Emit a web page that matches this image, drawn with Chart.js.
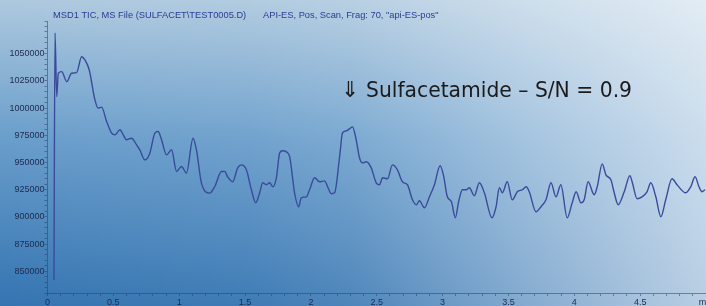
<!DOCTYPE html>
<html>
<head>
<meta charset="utf-8">
<script src="https://cdn.jsdelivr.net/npm/chart.js@4/dist/chart.umd.min.js"></script>
<style>
  html, body { margin: 0; padding: 0; overflow: hidden; width: 706px; height: 306px; }
  canvas { display: block; }
</style>
</head>
<body>
<canvas id="chart" width="728" height="306"></canvas>
<script>
// TIC trace (time in min, abundance)
const times = [0.049, 0.057, 0.070, 0.082, 0.108, 0.146, 0.183, 0.221, 0.259, 0.284,
  0.317, 0.360, 0.385, 0.411, 0.449, 0.487, 0.512, 0.550, 0.575, 0.600,
  0.638, 0.676, 0.701, 0.739, 0.777, 0.815, 0.840, 0.866, 0.904, 0.942,
  0.980, 1.017, 1.055, 1.105, 1.131, 1.169, 1.232, 1.270, 1.321, 1.346,
  1.368, 1.406, 1.444, 1.472, 1.510, 1.548, 1.581, 1.611, 1.634, 1.662,
  1.687, 1.710, 1.738, 1.763, 1.785, 1.814, 1.839, 1.876, 1.907, 1.927,
  1.965, 1.990, 2.028, 2.066, 2.104, 2.127, 2.155, 2.180, 2.218, 2.240,
  2.268, 2.293, 2.316, 2.344, 2.369, 2.392, 2.420, 2.458, 2.496, 2.521,
  2.544, 2.582, 2.619, 2.657, 2.695, 2.733, 2.771, 2.801, 2.824, 2.862,
  2.900, 2.938, 2.981, 3.006, 3.036, 3.067, 3.097, 3.120, 3.150, 3.180,
  3.203, 3.241, 3.279, 3.317, 3.375, 3.406, 3.431, 3.454, 3.491, 3.529,
  3.567, 3.605, 3.635, 3.658, 3.709, 3.747, 3.785, 3.823, 3.861, 3.898,
  3.946, 3.984, 4.014, 4.050, 4.075, 4.105, 4.151, 4.174, 4.212, 4.240,
  4.278, 4.303, 4.333, 4.379, 4.422, 4.439, 4.477, 4.514, 4.552, 4.581,
  4.619, 4.657, 4.694, 4.742, 4.780, 4.846, 4.884, 4.917, 4.947, 4.970, 4.992];

const abundance = [842000, 1069000, 1010500, 1032000, 1033500, 1024300, 1032000, 1032500, 1047200, 1044200,
  1035000, 1007500, 999900, 1000800, 987600, 976900, 975400, 980000, 975400, 970800,
  972300, 966200, 961600, 952400, 958500, 976900, 978400, 970800, 957000, 961600,
  941700, 946300, 940200, 972300, 961600, 931000, 921800, 927900, 941700, 941700,
  936800, 932200, 945000, 947800, 943200, 924900, 912900, 922100, 931300, 929500,
  931300, 927600, 935900, 958800, 960700, 959700, 955200, 922100, 909300, 917500,
  918400, 924900, 935900, 932200, 933100, 927600, 921200, 922100, 955200, 977200,
  979000, 980900, 982700, 970800, 954300, 949600, 950600, 945000, 931300, 929500,
  935900, 935000, 947800, 943200, 932200, 929500, 915700, 911100, 914800, 908300,
  918400, 929500, 946900, 938600, 918400, 913800, 899100, 912900, 924900, 924900,
  926700, 919400, 931300, 922100, 899100, 909300, 926700, 922100, 932200, 915700,
  923000, 924900, 927600, 923000, 904700, 909300, 915700, 931300, 918400, 929500,
  899100, 912900, 923000, 912900, 915700, 932200, 920300, 927600, 948700, 938600,
  934000, 922100, 911100, 923000, 937700, 932200, 916600, 918400, 923000, 931300,
  918400, 900100, 915700, 935000, 929500, 922100, 927600, 936800, 927600, 923000, 924900];

const yLabelValues = [850000, 875000, 900000, 925000, 950000, 975000, 1000000, 1025000, 1050000];
const xLabelValues = [0, 0.5, 1, 1.5, 2, 2.5, 3, 3.5, 4, 4.5];

const titleLeft = 'MSD1 TIC, MS File (SULFACET\\TEST0005.D)';
const titleRight = 'API-ES, Pos, Scan, Frag: 70, "api-ES-pos"';
const noteText = 'Sulfacetamide \u2013 S/N = 0.9';

const points = times.map((t, i) => ({ x: t, y: abundance[i] }));

const backdrop = {
  id: 'backdrop',
  beforeDraw(chart) {
    const ctx = chart.ctx;
    const w = chart.width, h = chart.height;
    ctx.save();
    const v = ctx.createLinearGradient(0, 0, 0, h);
    v.addColorStop(0, '#aec9df');
    v.addColorStop(0.45, '#6a9ecb');
    v.addColorStop(1, '#3474b1');
    ctx.fillStyle = v;
    ctx.fillRect(0, 0, w, h);
    const hz = ctx.createLinearGradient(0, 0, 706, 0);
    hz.addColorStop(0, 'rgba(255,255,255,0)');
    hz.addColorStop(0.35, 'rgba(255,255,255,0.05)');
    hz.addColorStop(0.5, 'rgba(255,255,255,0.13)');
    hz.addColorStop(0.75, 'rgba(255,255,255,0.4)');
    hz.addColorStop(1, 'rgba(255,255,255,0.65)');
    ctx.fillStyle = hz;
    ctx.fillRect(0, 0, w, h);
    ctx.restore();
  },
  afterDraw(chart) {
    const ctx = chart.ctx;
    ctx.save();
    ctx.textBaseline = 'alphabetic';
    ctx.textAlign = 'left';
    // header line
    ctx.fillStyle = '#2a3c92';
    ctx.font = '9.3px "Liberation Sans", Arial, sans-serif';
    ctx.fillText(titleLeft, 53, 18, 195);
    ctx.fillText(titleRight, 263, 18, 180);
    // annotation
    ctx.fillStyle = '#1b1b1b';
    ctx.font = '22px "DejaVu Sans", sans-serif';
    ctx.fillText('\u21D3', 341, 97);
    ctx.fillText(noteText, 366, 97, 266);
    ctx.restore();
  }
};

const axisColor = 'rgba(45,65,105,0.55)';
const labelColor = '#1e2a4e';

new Chart(document.getElementById('chart'), {
  type: 'line',
  data: {
    datasets: [{
      data: points,
      borderColor: '#3a4b9c',
      borderWidth: 1.4,
      pointRadius: 0,
      fill: false,
      cubicInterpolationMode: 'monotone'
    }]
  },
  options: {
    responsive: false,
    animation: false,
    layout: { padding: { top: 21, right: 22, left: 0, bottom: 0 } },
    plugins: { legend: { display: false }, tooltip: { enabled: false } },
    scales: {
      x: {
        type: 'linear',
        min: 0,
        max: 5,
        afterFit(scale) { scale.height = 13; },
        border: { display: true, color: axisColor, width: 1 },
        grid: { display: true, drawOnChartArea: false, drawTicks: true, tickLength: 3, color: axisColor },
        ticks: {
          stepSize: 0.1,
          autoSkip: false,
          maxRotation: 0,
          padding: 1,
          color: labelColor,
          font: { family: '"Liberation Sans", Arial, sans-serif', size: 9 },
          callback(v) {
            const r = Math.round(v * 10) / 10;
            if (Math.abs(r - 5) < 1e-6) return 'min';
            const hit = xLabelValues.find(l => Math.abs(l - r) < 1e-6);
            return hit === undefined ? '' : String(hit);
          }
        }
      },
      y: {
        min: 830000,
        max: 1080000,
        afterFit(scale) { scale.width = 47.5; },
        border: { display: true, color: axisColor, width: 1 },
        grid: { display: true, drawOnChartArea: false, drawTicks: true, tickLength: 3, color: axisColor },
        ticks: {
          stepSize: 5000,
          autoSkip: false,
          padding: 0,
          color: labelColor,
          font: { family: '"Liberation Sans", Arial, sans-serif', size: 9 },
          callback(v) {
            const r = Math.round(v);
            return yLabelValues.includes(r) ? String(r) : '';
          }
        }
      }
    }
  },
  plugins: [backdrop]
});
</script>
</body>
</html>
